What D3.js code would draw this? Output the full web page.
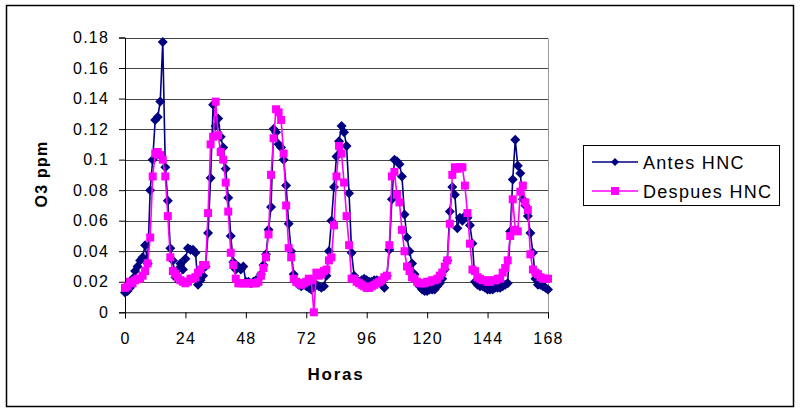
<!DOCTYPE html>
<html><head><meta charset="utf-8">
<script src="https://cdn.jsdelivr.net/npm/d3@7"></script>
<style>body{margin:0;background:#fff}svg{display:block}text{font-family:Arial,"Liberation Sans",sans-serif}</style>
</head><body>
<svg id="c" width="800" height="415"></svg>
<script>
const seriesNames = ["Antes HNC", "Despues HNC"];
const antes = [0.013,0.014,0.016,0.022,0.027,0.030,0.034,0.036,0.044,0.032,0.080,0.100,0.126,0.128,0.138,0.177,0.095,0.073,0.042,0.034,0.023,0.028,0.032,0.028,
0.035,0.042,0.041,0.041,0.039,0.018,0.021,0.024,0.030,0.052,0.088,0.136,0.122,0.127,0.115,0.108,0.094,0.075,0.050,0.033,0.028,0.030,0.028,0.030,
0.020,0.020,0.019,0.020,0.021,0.022,0.025,0.031,0.038,0.054,0.069,0.120,0.118,0.110,0.108,0.100,0.083,0.058,0.040,0.025,0.020,0.018,0.017,0.018,
0.017,0.016,0.015,0.017,0.018,0.017,0.016,0.017,0.024,0.040,0.060,0.082,0.102,0.112,0.122,0.118,0.109,0.078,0.039,0.024,0.021,0.020,0.021,0.022,
0.021,0.020,0.020,0.021,0.021,0.020,0.018,0.016,0.024,0.041,0.074,0.100,0.099,0.097,0.089,0.064,0.049,0.040,0.032,0.025,0.020,0.017,0.015,0.014,
0.014,0.015,0.015,0.015,0.017,0.019,0.022,0.028,0.034,0.066,0.082,0.077,0.055,0.062,0.060,0.063,0.062,0.057,0.045,0.020,0.018,0.017,0.017,0.016,
0.015,0.015,0.015,0.016,0.016,0.016,0.017,0.018,0.019,0.053,0.087,0.113,0.096,0.091,0.074,0.070,0.063,0.052,0.039,0.022,0.018,0.018,0.017,0.016,
0.015];
const despues = [0.016,0.017,0.020,0.019,0.021,0.022,0.022,0.024,0.027,0.032,0.049,0.089,0.104,0.105,0.103,0.100,0.089,0.063,0.036,0.027,0.025,0.023,0.021,0.020,
0.019,0.020,0.022,0.022,0.023,0.026,0.028,0.031,0.031,0.065,0.110,0.115,0.138,0.116,0.105,0.100,0.085,0.066,0.039,0.031,0.022,0.019,0.019,0.019,
0.019,0.019,0.019,0.019,0.019,0.020,0.024,0.029,0.036,0.051,0.090,0.114,0.133,0.131,0.126,0.104,0.070,0.042,0.036,0.022,0.020,0.019,0.018,0.019,
0.020,0.022,0.021,0.000,0.026,0.024,0.025,0.027,0.028,0.034,0.036,0.057,0.089,0.109,0.104,0.085,0.063,0.044,0.022,0.022,0.020,0.019,0.018,0.017,
0.016,0.016,0.017,0.018,0.019,0.020,0.021,0.023,0.024,0.044,0.089,0.092,0.077,0.072,0.054,0.040,0.030,0.027,0.023,0.022,0.020,0.019,0.019,0.019,
0.020,0.020,0.021,0.021,0.022,0.024,0.026,0.030,0.034,0.058,0.090,0.095,0.094,0.095,0.095,0.083,0.065,0.045,0.028,0.027,0.023,0.022,0.021,0.021,
0.020,0.020,0.021,0.021,0.022,0.022,0.026,0.029,0.034,0.050,0.074,0.054,0.053,0.079,0.083,0.072,0.067,0.038,0.028,0.026,0.025,0.023,0.022,0.022,
0.022];
const xTicks = [0,24,48,72,96,120,144,168];
const yTicks = [0,0.02,0.04,0.06,0.08,0.1,0.12,0.14,0.16,0.18];
const yTickLabels = ["0","0.02","0.04","0.06","0.08","0.1","0.12","0.14","0.16","0.18"];
const colors = ["#000080","#ff00ff"];

const svg = d3.select("#c");
svg.append("rect").attr("x",6.5).attr("y",5.5).attr("width",787).attr("height",401)
  .attr("fill","#fff").attr("stroke","#000").attr("stroke-width",1.5);

const x = d3.scaleLinear().domain([0,168]).range([125,548]);
const y = d3.scaleLinear().domain([0,0.18]).range([312.3,37.5]);

// gridlines
svg.append("g").selectAll("line").data(yTicks.slice(1)).join("line")
  .attr("x1",125).attr("x2",548).attr("y1",d=>Math.round(y(d))+0.5).attr("y2",d=>Math.round(y(d))+0.5)
  .attr("stroke","#444").attr("stroke-width",1);
// right border
svg.append("line").attr("x1",548.5).attr("x2",548.5).attr("y1",Math.round(y(0.18))+0.5).attr("y2",Math.round(y(0))+0.5)
  .attr("stroke","#999");

// axes
const yAxis = d3.axisLeft(y).tickValues(yTicks).tickFormat((d,i)=>yTickLabels[i]).tickSizeOuter(0).tickSize(6).tickPadding(10);
const gy = svg.append("g").attr("transform","translate(125,0)").call(yAxis);
gy.selectAll("text").attr("font-size",16).attr("letter-spacing","1.2px").attr("fill","#000");
const xAxis = d3.axisBottom(x).tickValues(xTicks).tickFormat(d=>d).tickSizeOuter(0).tickSize(6).tickPadding(14);
const gx = svg.append("g").attr("transform",`translate(0,${y(0)})`).call(xAxis);
gx.selectAll("text").attr("font-size",16).attr("letter-spacing","1.2px").attr("fill","#000");
svg.selectAll(".domain, .tick line").attr("stroke","#000");

// axis titles
svg.append("text").attr("transform","translate(47,174) rotate(-90)").attr("text-anchor","middle")
  .attr("font-size",16).attr("font-weight","bold").attr("letter-spacing","1.2px").text("O3 ppm");
svg.append("text").attr("x",336).attr("y",380).attr("text-anchor","middle")
  .attr("font-size",17).attr("font-weight","bold").attr("letter-spacing","1.8px").text("Horas");

const diamond = "M0,-5L5,0L0,5L-5,0Z";
const square = "M-4,-4H4V4H-4Z";
const line = d3.line().x((d,i)=>x(i)).y(d=>y(d));
const data = [antes, despues];
const shapes = [diamond, square];
data.forEach((arr,k)=>{
  const g = svg.append("g");
  g.append("path").attr("d",line(arr)).attr("fill","none").attr("stroke",colors[k]).attr("stroke-width",1.6);
  g.selectAll("path.m").data(arr).join("path").attr("class","m")
    .attr("transform",(d,i)=>`translate(${x(i)},${y(d)})`).attr("d",shapes[k]).attr("fill",colors[k]);
});

// legend
const lg = svg.append("g");
lg.append("rect").attr("x",583.5).attr("y",145.5).attr("width",196).attr("height",60).attr("fill","#fff").attr("stroke","#000");
seriesNames.forEach((n,k)=>{
  const cy = 162 + k*29;
  lg.append("line").attr("x1",592).attr("x2",638).attr("y1",cy).attr("y2",cy).attr("stroke",colors[k]).attr("stroke-width",1.5);
  lg.append("path").attr("transform",`translate(615,${cy})`).attr("d",k===0?"M0,-4L4,0L0,4L-4,0Z":square).attr("fill",colors[k]);
  lg.append("text").attr("x",643).attr("y",cy+6.5).attr("font-size",18).attr("letter-spacing","1.3px").text(n);
});
</script>
</body></html>
